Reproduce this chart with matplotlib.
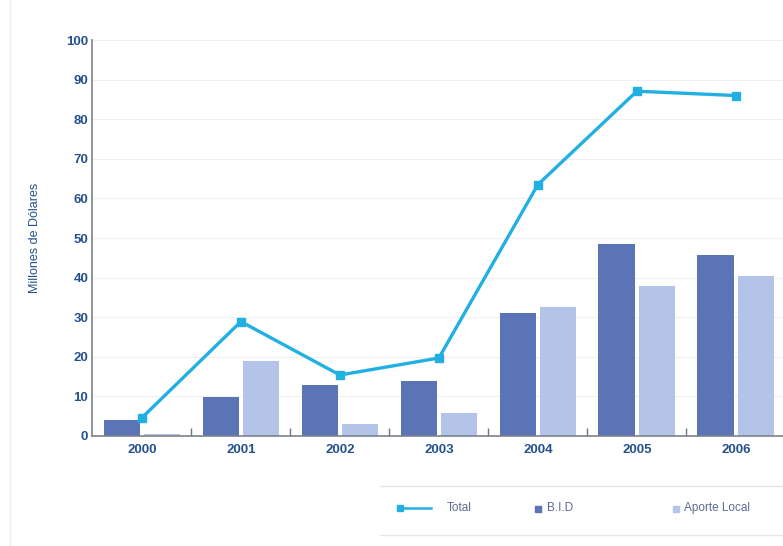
import matplotlib.pyplot as plt
from matplotlib.lines import Line2D
from matplotlib.patches import Rectangle
import numpy as np

years = ['2000', '2001', '2002', '2003', '2004', '2005', '2006']
bid = [4, 9.8, 13, 14, 31, 48.6, 45.6]
aporte_local = [0.5, 19, 3, 5.8, 32.5, 38, 40.3]
total = [4.6, 28.9, 15.4, 19.7, 63.5, 87.1, 86]
legend_labels = ['Total', 'B.I.D', 'Aporte Local']

c_bid = '#5b74b6'
c_local = '#b4c4e8'
c_total = '#22b0e2'
c_text = '#24508e'

plt.rcParams['font.family'] = ['Liberation Sans', 'DejaVu Sans']

fig = plt.figure(figsize=(7.83, 5.46), dpi=100)
ax = fig.add_axes([0.118, 0.2015, 0.885, 0.725])

x = np.arange(len(years))
w = 0.365
ax.bar(x - 0.205, bid, width=w, color=c_bid, zorder=2)
ax.bar(x + 0.2, aporte_local, width=w, color=c_local, zorder=2)
ax.plot(x, total, color=c_total, lw=2.4, marker='s', markersize=5.5, zorder=3)

ax.set_xlim(-0.5, 6.5)
ax.set_ylim(0, 100)
ax.set_yticks(range(0, 101, 10))
ax.set_xticks(x)
ax.set_xticklabels(years)
ax.set_xticks(np.arange(0.5, 6.5, 1), minor=True)
ax.tick_params(axis='x', which='major', length=0, pad=6, labelsize=9.5, labelcolor=c_text)
ax.tick_params(axis='x', which='minor', direction='in', length=6, width=1, color='#6f7480')
ax.tick_params(axis='y', length=0, pad=3, labelsize=9.5, labelcolor=c_text)
for lab in ax.get_xticklabels() + ax.get_yticklabels():
    lab.set_fontweight('bold')

ax.grid(axis='y', color='#eef0f5', lw=0.8, zorder=0)
for s in ['top', 'right']:
    ax.spines[s].set_visible(False)
for s in ['left', 'bottom']:
    ax.spines[s].set_color('#7d828c')
    ax.spines[s].set_linewidth(1.2)

fig.text(0.045, 0.565, 'Millones de Dólares', rotation=90, ha='center', va='center',
         fontsize=9, color=c_text)

# page edge line on the left
fig.add_artist(Line2D([0.013, 0.013], [0.0, 1.0], color='#e8ebf0', lw=1))

# legend box
fig.add_artist(Line2D([0.485, 1.0], [0.11, 0.11], color='#e3e6ec', lw=1))
fig.add_artist(Line2D([0.485, 1.0], [0.02, 0.02], color='#e3e6ec', lw=1))
ly = 0.069
fig.add_artist(Line2D([0.509, 0.55], [ly, ly], color=c_total, lw=1.8))
fig.add_artist(Line2D([0.511], [ly], color=c_total, marker='s', markersize=5, lw=0))
fig.text(0.571, ly, legend_labels[0], fontsize=8.5, color='#5b6c92', va='center')
fig.add_artist(Rectangle((0.683, ly - 0.007), 0.008, 0.0115, color=c_bid, transform=fig.transFigure))
fig.text(0.698, ly, legend_labels[1], fontsize=8.5, color='#5b6c92', va='center')
fig.add_artist(Rectangle((0.859, ly - 0.007), 0.008, 0.0115, color=c_local, transform=fig.transFigure))
fig.text(0.873, ly, legend_labels[2], fontsize=8.5, color='#5b6c92', va='center')

fig.savefig('out.png', dpi=100)
